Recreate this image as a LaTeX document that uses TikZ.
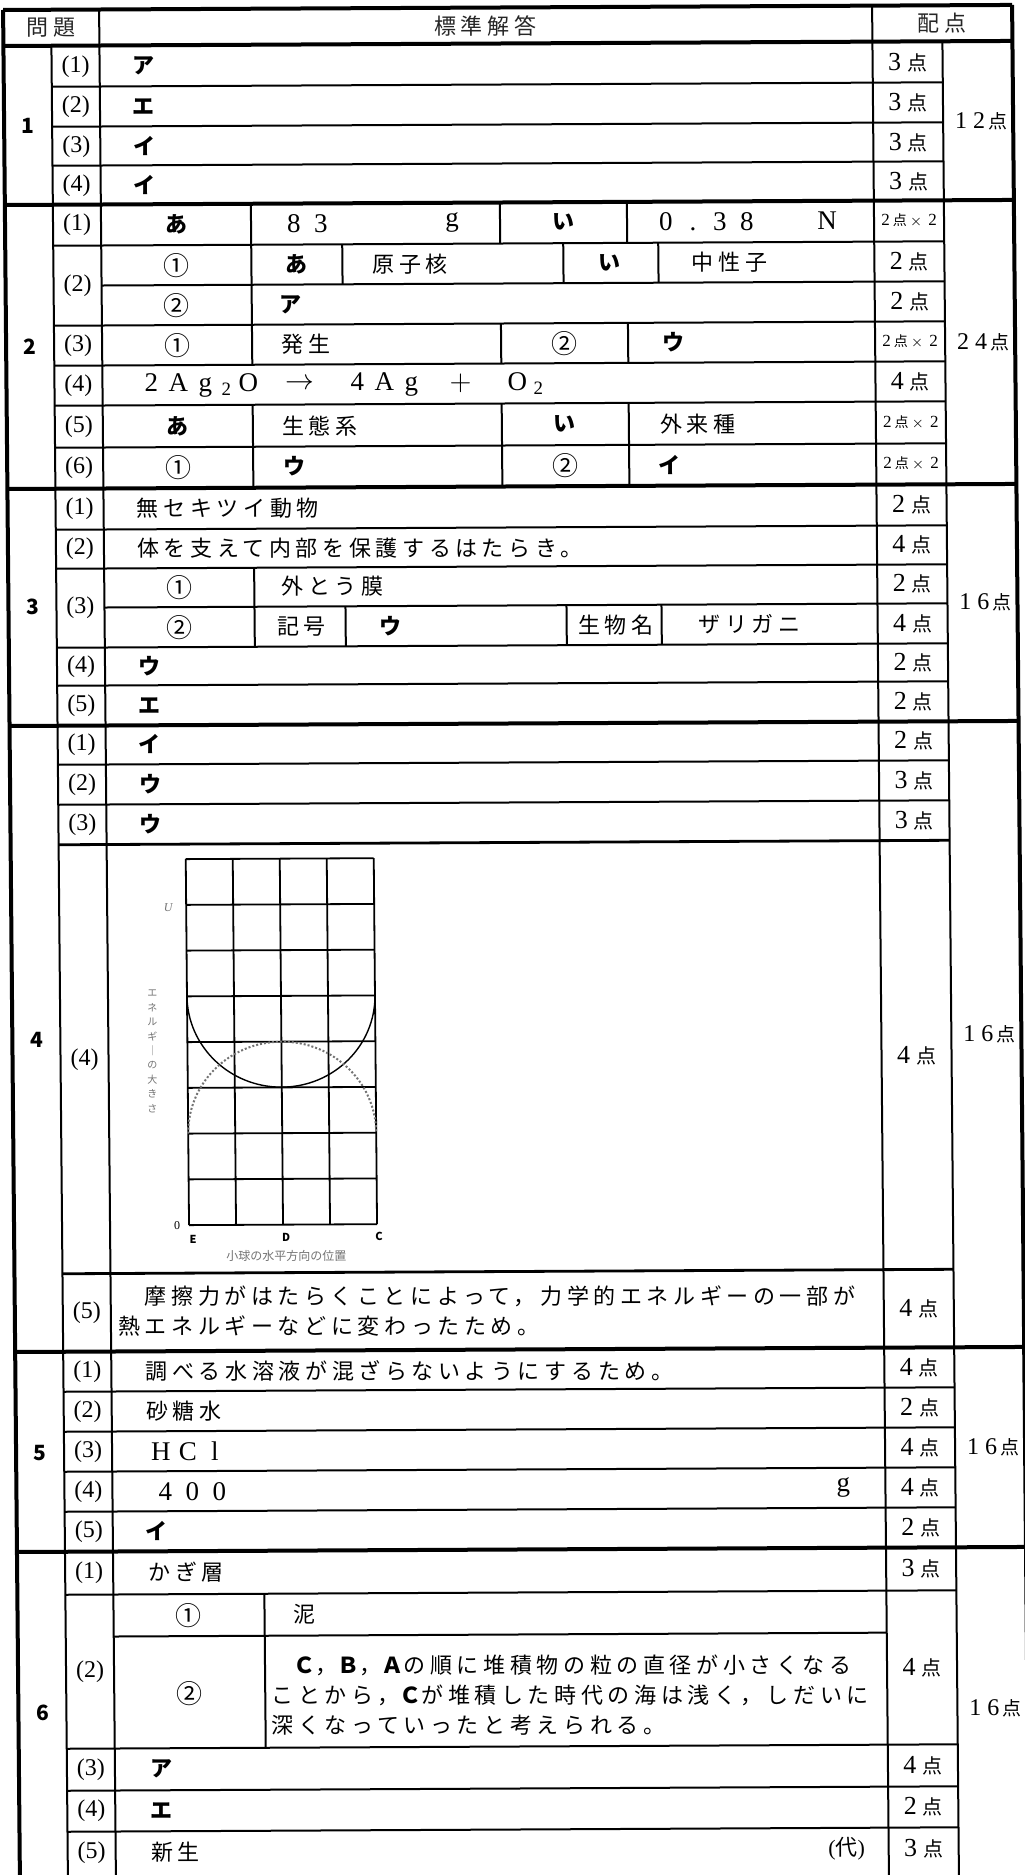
\documentclass[tikz,border=0pt]{standalone}
\usepackage{fontspec}
\setmainfont{Liberation Serif}
\newfontfamily\jp{Noto Sans CJK JP}[LetterSpace=21]
\newfontfamily\jpn{Noto Sans CJK JP}
\usetikzlibrary{positioning}

% full-width box for one character
\newcommand{\zw}[1]{\makebox[13.5pt]{#1}}
\newcommand{\tenpts}[1]{{\fontsize{13}{14}\selectfont #1}\hspace{3pt}{\jpn 点}}
\newcommand{\tenx}[1]{{\fontsize{8.5}{9}\selectfont #1}\hspace{1.5pt}{\jpn\fontsize{7}{8}\selectfont 点}\hspace{1.5pt}{\fontsize{7.5}{8}\selectfont$\times$}\hspace{3pt}{\fontsize{8.5}{9}\selectfont 2}}
\newcommand{\sumpts}[2]{{\fontsize{12}{13}\selectfont #1\hspace{3pt}#2}\hspace{1.5pt}{\jpn\fontsize{9.5}{10}\selectfont 点}}

\begin{document}
\begin{tikzpicture}[
    x=0.5pt, y=-0.5pt,
    rule/.style={line width=1pt},
    sepline/.style={line width=2pt},
    gridline/.style={line width=0.9pt},
    grp/.style={font=\jpn\bfseries\fontsize{10.5}{12}\selectfont, inner sep=0pt},
    qno/.style={font=\fontsize{12}{13}\selectfont, inner sep=0pt},
    kana/.style={font=\jpn\bfseries\fontsize{11}{13}\selectfont, inner sep=0pt},
    circ/.style={font=\jpn\fontsize{13}{14}\selectfont, inner sep=0pt},
    mid/.style={font=\jp\fontsize{11}{13}\selectfont, inner sep=0pt},
    ans/.style={mid, anchor=west},
    num/.style={font=\fontsize{13.5}{15}\selectfont, inner sep=0pt},
    wide/.style={num, anchor=west},
    pts/.style={font=\fontsize{10}{12}\selectfont, inner sep=0pt},
    total/.style={font=\fontsize{10}{12}\selectfont, inner sep=0pt},
    head/.style={font=\jp\fontsize{11}{13}\selectfont, text=black!85, inner sep=0pt},
    graphlabel/.style={font=\jpn\fontsize{6}{7}\selectfont, text=black!55, inner sep=0pt},
    axislabel/.style={font=\jpn\bfseries\fontsize{5.5}{6}\selectfont, inner sep=0pt}
]
    \fill[white] (0,0) rectangle (1024,1875);
    \useasboundingbox (0,0) rectangle (1024,1875);

\begin{scope}[cm={1,0.005,-0.009,1,(0,0)}]
    % Frame and columns
    \draw[sepline] (3,10) -- (1012,10);
    \draw[sepline] (3,46) -- (1012,46);
    \draw[sepline] (3,10) -- (3,1880);
    \draw[sepline] (1012,10) -- (1012,1880);
    \draw[rule] (51,46) -- (51,1880);
    \draw[rule] (99,10) -- (99,1880);
    \draw[rule] (872,10) -- (872,1880);
    \draw[rule] (942,46) -- (942,1880);

    % Group separators
    \draw[sepline] (3,205) -- (1012,205);
    \draw[sepline] (3,489) -- (1012,489);
    \draw[sepline] (3,726) -- (1012,726);
    \draw[sepline] (3,1352) -- (1012,1352);
    \draw[sepline] (3,1552) -- (1012,1552);

    % Header
    \node[head] (hmon) at (51,28) {問題};
    \node[head] (hans) at (485,28) {標準解答};
    \node[head] (hpts) at (942,28) {配点};

    % Group 1
    \draw[rule] (51,87) -- (942,87);
    \draw[rule] (51,127) -- (942,127);
    \draw[rule] (51,166) -- (942,166);
    \node[grp] (n1) at (27,126) {1};
    \node[qno] (q11) at (75,67) {(1)};
    \node[qno] (q12) at (75,107) {(2)};
    \node[qno] (q13) at (75,147) {(3)};
    \node[qno] (q14) at (75,186) {(4)};
    \node[kana] (a11) at (143,67) {ア};
    \node[kana] (a12) at (143,107) {エ};
    \node[kana] (a13) at (143,147) {イ};
    \node[kana] (a14) at (143,186) {イ};
    \node[pts] (p11) at (907,67) {\tenpts{3}};
    \node[pts] (p12) at (907,107) {\tenpts{3}};
    \node[pts] (p13) at (907,147) {\tenpts{3}};
    \node[pts] (p14) at (907,186) {\tenpts{3}};
    \node[total] (t1) at (980,126) {\sumpts{1}{2}};

    % Group 2
    \draw[rule] (51,246) -- (942,246);
    \draw[rule] (99,286) -- (942,286);
    \draw[rule] (51,326) -- (942,326);
    \draw[rule] (51,366) -- (942,366);
    \draw[rule] (51,406) -- (942,406);
    \draw[rule] (51,448) -- (942,448);
    \draw[rule] (249,205) -- (249,326);
    \draw[rule] (249,326) -- (249,366);
    \draw[rule] (249,406) -- (249,489);
    \draw[rule] (498,205) -- (498,246);
    \draw[rule] (498,326) -- (498,366);
    \draw[rule] (498,406) -- (498,489);
    \draw[rule] (625,205) -- (625,246);
    \draw[rule] (625,326) -- (625,366);
    \draw[rule] (625,406) -- (625,489);
    \draw[rule] (340,246) -- (340,286);
    \draw[rule] (561,246) -- (561,286);
    \draw[rule] (656,246) -- (656,286);
    \node[grp] (n2) at (27,347) {2};
    \node[qno] (q21) at (75,225) {(1)};
    \node[kana] (a21a) at (174,225) {あ};
    \node[wide] (a21b) at (278,225) {\zw{8}\zw{3}};
    \node[num] (a21c) at (450,225) {g};
    \node[kana] (a21d) at (561,225) {い};
    \node[wide] (a21e) at (650,225) {\zw{0}\zw{.}\zw{3}\zw{8}};
    \node[num] (a21f) at (825,225) {N};
    \node[pts] (p21) at (907,225) {\tenx{2}};
    \node[qno] (q22) at (75,286) {(2)};
    \node[circ] (a22a) at (174,266) {①};
    \node[kana] (a22b) at (294,266) {あ};
    \node[mid] (a22c) at (408,266) {原子核};
    \node[kana] (a22d) at (607,266) {い};
    \node[mid] (a22e) at (727,266) {中性子};
    \node[pts] (p22a) at (907,266) {\tenpts{2}};
    \node[circ] (a22f) at (174,306) {②};
    \node[kana] (a22g) at (288,306) {ア};
    \node[pts] (p22b) at (907,306) {\tenpts{2}};
    \node[qno] (q23) at (75,346) {(3)};
    \node[circ] (a23a) at (174,346) {①};
    \node[ans] (a23b) at (278,346) {発生};
    \node[circ] (a23c) at (561,346) {②};
    \node[kana] (a23d) at (670,346) {ウ};
    \node[pts] (p23) at (907,346) {\tenx{2}};
    \node[qno] (q24) at (75,386) {(4)};
    \node[wide] (a24a) at (134,386) {\zw{2}\zw{A}\zw{g}\makebox[8pt]{\textsubscript{2}}\zw{O}};
    \node[num] (a24b) at (296,386) {$\rightarrow$};
    \node[wide] (a24c) at (340,386) {\zw{4}\zw{A}\zw{g}};
    \node[num] (a24d) at (457,386) {$+$};
    \node[wide] (a24e) at (500,386) {\zw{O}\makebox[8pt]{\textsubscript{2}}};
    \node[pts] (p24) at (907,386) {\tenpts{4}};
    \node[qno] (q25) at (75,427) {(5)};
    \node[kana] (a25a) at (174,427) {あ};
    \node[ans] (a25b) at (278,427) {生態系};
    \node[kana] (a25c) at (561,427) {い};
    \node[ans] (a25d) at (656,427) {外来種};
    \node[pts] (p25) at (907,427) {\tenx{2}};
    \node[qno] (q26) at (75,468) {(6)};
    \node[circ] (a26a) at (174,468) {①};
    \node[kana] (a26b) at (290,468) {ウ};
    \node[circ] (a26c) at (561,468) {②};
    \node[kana] (a26d) at (665,468) {イ};
    \node[pts] (p26) at (907,468) {\tenx{2}};
    \node[total] (t2) at (980,347) {\sumpts{2}{4}};

    % Group 3
    \draw[rule] (51,530) -- (942,530);
    \draw[rule] (51,569) -- (942,569);
    \draw[rule] (99,608) -- (942,608);
    \draw[rule] (51,648) -- (942,648);
    \draw[rule] (51,686) -- (942,686);
    \draw[rule] (249,569) -- (249,648);
    \draw[rule] (340,608) -- (340,648);
    \draw[rule] (561,608) -- (561,648);
    \draw[rule] (656,608) -- (656,648);
    \node[grp] (n3) at (27,607) {3};
    \node[qno] (q31) at (75,509) {(1)};
    \node[ans] (a31) at (132,509) {無セキツイ動物};
    \node[pts] (p31) at (907,509) {\tenpts{2}};
    \node[qno] (q32) at (75,549) {(2)};
    \node[ans] (a32) at (132,549) {体を支えて内部を保護するはたらき。};
    \node[pts] (p32) at (907,549) {\tenpts{4}};
    \node[qno] (q33) at (75,608) {(3)};
    \node[circ] (a33a) at (174,588) {①};
    \node[ans] (a33b) at (276,588) {外とう膜};
    \node[pts] (p33a) at (907,588) {\tenpts{2}};
    \node[circ] (a33c) at (174,628) {②};
    \node[mid] (a33d) at (296,628) {記号};
    \node[kana] (a33e) at (385,628) {ウ};
    \node[mid] (a33f) at (610,628) {生物名};
    \node[mid] (a33g) at (744,628) {ザリガニ};
    \node[pts] (p33b) at (907,628) {\tenpts{4}};
    \node[qno] (q34) at (75,667) {(4)};
    \node[kana] (a34) at (143,667) {ウ};
    \node[pts] (p34) at (907,667) {\tenpts{2}};
    \node[qno] (q35) at (75,706) {(5)};
    \node[kana] (a35) at (143,706) {エ};
    \node[pts] (p35) at (907,706) {\tenpts{2}};
    \node[total] (t3) at (980,607) {\sumpts{1}{6}};

    % Group 4
    \draw[rule] (51,765) -- (942,765);
    \draw[rule] (51,805) -- (942,805);
    \draw[line width=1.4pt] (51,845) -- (942,845);
    \draw[line width=1.4pt] (51,1274) -- (942,1274);
    \node[grp] (n4) at (28,1040) {4};
    \node[qno] (q41) at (75,745) {(1)};
    \node[kana] (a41) at (143,745) {イ};
    \node[pts] (p41) at (907,745) {\tenpts{2}};
    \node[qno] (q42) at (75,785) {(2)};
    \node[kana] (a42) at (143,785) {ウ};
    \node[pts] (p42) at (907,785) {\tenpts{3}};
    \node[qno] (q43) at (75,825) {(3)};
    \node[kana] (a43) at (143,825) {ウ};
    \node[pts] (p43) at (907,825) {\tenpts{3}};
    \node[qno] (q44) at (75,1060) {(4)};
    \node[pts] (p44) at (907,1060) {\tenpts{4}};
    % energy graph
    \foreach \gx in {0,...,4}
        \draw[gridline] (178+47*\gx,860) -- (178+47*\gx,1226);
    \foreach \gy in {0,...,8}
        \draw[gridline] (178,1226-45.75*\gy) -- (366,1226-45.75*\gy);
    \draw[line width=0.7pt] (178,997) arc[start angle=180, end angle=0, x radius=94, y radius=91.5];
    \draw[densely dotted, line width=1pt, black!55] (178,1134.5) arc[start angle=180, end angle=360, x radius=94, y radius=91.5];
    \node[graphlabel, align=center, font=\jpn\fontsize{5}{7.2}\selectfont] (ylab) at (143,1052) {エ\\ネ\\ル\\ギ\\｜\\の\\大\\き\\さ};
    \node[graphlabel, font=\fontsize{6}{7}\selectfont\itshape] (ytop) at (160,908) {U};
    \node[graphlabel, font=\fontsize{6}{7}\selectfont, text=black] (yzero) at (166,1226) {0};
    \node[axislabel] (xe) at (182,1240) {E};
    \node[axislabel] (xd) at (275,1239) {D};
    \node[axislabel] (xc) at (368,1238) {C};
    \node[graphlabel] (xlab) at (275,1257) {小球の水平方向の位置};
    \node[qno] (q45) at (75,1313) {(5)};
    \node[ans, align=left, font=\jp\fontsize{11}{15}\selectfont] (a45) at (106,1312) {　摩擦力がはたらくことによって，力学的エネルギーの一部が\\熱エネルギーなどに変わったため。};
    \node[pts] (p45) at (907,1313) {\tenpts{4}};
    \node[total] (t4) at (980,1039) {\sumpts{1}{6}};

    % Group 5
    \draw[rule] (51,1392) -- (942,1392);
    \draw[rule] (51,1432) -- (942,1432);
    \draw[rule] (51,1472) -- (942,1472);
    \draw[rule] (51,1512) -- (942,1512);
    \node[grp] (n5) at (27,1453) {5};
    \node[qno] (q51) at (75,1372) {(1)};
    \node[ans] (a51) at (133,1372) {調べる水溶液が混ざらないようにするため。};
    \node[pts] (p51) at (907,1372) {\tenpts{4}};
    \node[qno] (q52) at (75,1412) {(2)};
    \node[ans] (a52) at (133,1412) {砂糖水};
    \node[pts] (p52) at (907,1412) {\tenpts{2}};
    \node[qno] (q53) at (75,1452) {(3)};
    \node[wide] (a53) at (134,1452) {\zw{H}\zw{C}\zw{l}};
    \node[pts] (p53) at (907,1452) {\tenpts{4}};
    \node[qno] (q54) at (75,1492) {(4)};
    \node[wide] (a54a) at (138,1492) {\zw{4}\zw{0}\zw{0}};
    \node[num] (a54b) at (830,1492) {g};
    \node[pts] (p54) at (907,1492) {\tenpts{4}};
    \node[qno] (q55) at (75,1532) {(5)};
    \node[kana] (a55) at (143,1532) {イ};
    \node[pts] (p55) at (907,1532) {\tenpts{2}};
    \node[total] (t5) at (980,1452) {\sumpts{1}{6}};

    % Group 6
    \draw[rule] (51,1595) -- (942,1595);
    \draw[rule] (99,1637) -- (872,1637);
    \draw[rule] (51,1749) -- (942,1749);
    \draw[rule] (51,1791) -- (942,1791);
    \draw[rule] (51,1832) -- (942,1832);
    \draw[rule] (250,1595) -- (250,1749);
    \node[grp] (n6) at (27,1713) {6};
    \node[qno] (q61) at (75,1573) {(1)};
    \node[ans] (a61) at (134,1573) {かぎ層};
    \node[pts] (p61) at (907,1573) {\tenpts{3}};
    \node[qno] (q62) at (75,1672) {(2)};
    \node[circ] (a62a) at (174,1616) {①};
    \node[ans] (a62b) at (279,1616) {泥};
    \node[circ] (a62c) at (174,1694) {②};
    \node[ans, align=left, font=\jp\fontsize{11}{15}\selectfont] (a62d) at (256,1696) {　{\bfseries Ｃ}，{\bfseries Ｂ}，{\bfseries Ａ}の順に堆積物の粒の直径が小さくなる\\ことから，{\bfseries Ｃ}が堆積した時代の海は浅く，しだいに\\深くなっていったと考えられる。};
    \node[pts] (p62) at (907,1672) {\tenpts{4}};
    \node[qno] (q63) at (75,1770) {(3)};
    \node[kana] (a63) at (146,1770) {ア};
    \node[pts] (p63) at (907,1770) {\tenpts{4}};
    \node[qno] (q64) at (75,1811) {(4)};
    \node[kana] (a64) at (145,1811) {エ};
    \node[pts] (p64) at (907,1811) {\tenpts{2}};
    \node[qno] (q65) at (75,1853) {(5)};
    \node[ans] (a65a) at (134,1853) {新生};
    \node[qno, font=\fontsize{11}{13}\selectfont] (a65b) at (830,1853) {({\jpn 代})};
    \node[pts] (p65) at (907,1853) {\tenpts{3}};
    \node[total] (t6) at (980,1713) {\sumpts{1}{6}};
\end{scope}
\end{tikzpicture}
\end{document}
